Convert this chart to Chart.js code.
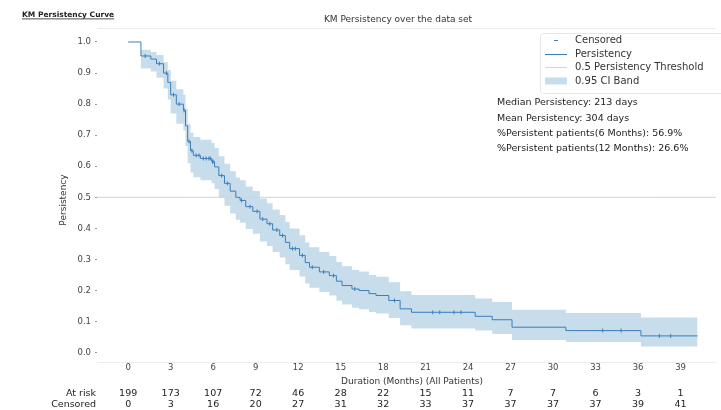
<!DOCTYPE html>
<html>
<head>
<meta charset="utf-8">
<script src="https://cdn.jsdelivr.net/npm/chart.js@4.4.1/dist/chart.umd.min.js"></script>
<style>
  html, body { margin: 0; padding: 0; background: #fff; overflow: hidden; }
  #wrap { position: relative; width: 721px; height: 410px; }
</style>
</head>
<body>
<div id="wrap"><canvas id="kmChart" width="721" height="410"></canvas></div>
<script>
// ---- data ----
var eventMonths = [0, 0.9, 1.6, 2.0, 2.5, 2.8, 3.0, 3.4, 3.9, 4.05, 4.2, 4.4, 4.6, 5.1, 5.9, 6.1, 6.4, 6.8, 7.2, 7.6, 7.9, 8.3, 8.8, 9.3, 9.8, 10.2, 10.7, 11.1, 11.4, 12.1, 12.5, 12.8, 13.5, 14.2, 14.7, 15.1, 15.8, 16.3, 17.0, 17.5, 18.4, 19.2, 20.0, 24.5, 25.7, 27.1, 30.9, 36.2, 40.2];
var persistency = [1.0, 0.955, 0.945, 0.93, 0.90, 0.87, 0.83, 0.80, 0.78, 0.73, 0.68, 0.65, 0.635, 0.625, 0.615, 0.598, 0.57, 0.545, 0.52, 0.50, 0.49, 0.47, 0.455, 0.43, 0.415, 0.395, 0.377, 0.355, 0.335, 0.313, 0.29, 0.275, 0.26, 0.248, 0.23, 0.216, 0.205, 0.2, 0.19, 0.184, 0.168, 0.141, 0.13, 0.117, 0.106, 0.082, 0.071, 0.054, 0.054];
var ciUpper = [1.0, 0.975, 0.968, 0.958, 0.935, 0.91, 0.875, 0.848, 0.83, 0.785, 0.737, 0.708, 0.694, 0.685, 0.675, 0.659, 0.632, 0.608, 0.584, 0.564, 0.555, 0.535, 0.52, 0.496, 0.481, 0.461, 0.443, 0.421, 0.4, 0.378, 0.355, 0.339, 0.324, 0.311, 0.292, 0.278, 0.266, 0.261, 0.25, 0.244, 0.227, 0.198, 0.186, 0.174, 0.163, 0.138, 0.128, 0.113, 0.113];
var ciLower = [1.0, 0.915, 0.905, 0.885, 0.85, 0.815, 0.77, 0.737, 0.715, 0.665, 0.61, 0.58, 0.565, 0.555, 0.545, 0.527, 0.498, 0.473, 0.448, 0.428, 0.418, 0.398, 0.383, 0.358, 0.343, 0.324, 0.306, 0.285, 0.266, 0.245, 0.223, 0.209, 0.195, 0.184, 0.167, 0.155, 0.145, 0.14, 0.131, 0.126, 0.112, 0.088, 0.078, 0.071, 0.06, 0.041, 0.034, 0.02, 0.02];
var censorMonths = [1.2, 2.2, 2.7, 3.2, 3.6, 3.95, 4.3, 4.5, 4.8, 5.0, 5.3, 5.5, 5.7, 5.8, 5.95, 6.0, 6.6, 7.0, 8.0, 8.6, 9.1, 9.5, 10.0, 10.5, 10.9, 11.6, 11.8, 12.3, 13.0, 13.8, 14.5, 16.0, 18.8, 21.5, 22.0, 23.0, 23.5, 33.5, 34.8, 37.5, 38.3];
var censorValues = [0.955, 0.93, 0.90, 0.83, 0.80, 0.78, 0.68, 0.65, 0.635, 0.635, 0.625, 0.625, 0.625, 0.625, 0.615, 0.615, 0.57, 0.545, 0.49, 0.47, 0.455, 0.43, 0.415, 0.395, 0.377, 0.335, 0.335, 0.313, 0.275, 0.26, 0.248, 0.205, 0.168, 0.13, 0.13, 0.13, 0.13, 0.071, 0.071, 0.054, 0.054];
var thresholdValue = 0.5;

var xTicks = [0, 3, 6, 9, 12, 15, 18, 21, 24, 27, 30, 33, 36, 39];
var yTicks = [0, 0.1, 0.2, 0.3, 0.4, 0.5, 0.6, 0.7, 0.8, 0.9, 1.0];
var atRisk = [199, 173, 107, 72, 46, 28, 22, 15, 11, 7, 7, 6, 3, 1];
var censoredCounts = [0, 3, 16, 20, 27, 31, 32, 33, 37, 37, 37, 37, 39, 41];

var statLines = [
  'Median Persistency: 213 days',
  'Mean Persistency: 304 days',
  '%Persistent patients(6 Months): 56.9%',
  '%Persistent patients(12 Months): 26.6%'
];
var legendLabels = ['Censored', 'Persistency', '0.5 Persistency Threshold', '0.95 CI Band'];

var X_MIN = -2.2, X_MAX = 41.5, Y_MIN = -0.03, Y_MAX = 1.045;

var FONT = '"DejaVu Sans", sans-serif';
var LINE_BLUE = '#3b7fba';
var BAND_BLUE = 'rgba(31,119,180,0.25)';
var THRESH = '#c8d8d8';

function pts(xs, ys) { return xs.map(function (x, i) { return { x: x, y: ys[i] }; }); }

// extra text + table drawn with the chart's own scales
var decorPlugin = {
  id: 'decor',
  afterDraw: function (chart) {
    var ctx = chart.ctx, a = chart.chartArea, xs = chart.scales.x;
    ctx.save();

    // top / bottom spines
    ctx.strokeStyle = '#ececec';
    ctx.lineWidth = 1;
    ctx.beginPath();
    ctx.moveTo(a.left, a.top + 0.5); ctx.lineTo(a.right, a.top + 0.5);
    ctx.moveTo(a.left, a.bottom + 0.5); ctx.lineTo(a.right, a.bottom + 0.5);
    ctx.stroke();

    // heading
    ctx.fillStyle = '#222';
    ctx.font = 'bold 7.5px ' + FONT;
    ctx.textAlign = 'left'; ctx.textBaseline = 'alphabetic';
    ctx.fillText('KM Persistency Curve', 22, 17);
    var hw = ctx.measureText('KM Persistency Curve').width;
    ctx.fillRect(22, 18.5, hw, 0.8);

    // title
    ctx.font = '9px ' + FONT;
    ctx.fillStyle = '#333';
    ctx.textAlign = 'center'; ctx.textBaseline = 'middle';
    ctx.fillText('KM Persistency over the data set', 398, 20);

    // y label
    ctx.save();
    ctx.translate(64, 200);
    ctx.rotate(-Math.PI / 2);
    ctx.font = '9px ' + FONT;
    ctx.fillText('Persistency', 0, 0);
    ctx.restore();

    // x label
    ctx.font = '9px ' + FONT;
    ctx.fillText('Duration (Months) (All Patients)', 412, 382);

    // at-risk table
    ctx.font = '9.5px ' + FONT;
    ctx.fillStyle = '#222';
    ctx.textAlign = 'right';
    ctx.fillText('At risk', 96, 394);
    ctx.fillText('Censored', 96, 405);
    ctx.textAlign = 'center';
    xTicks.forEach(function (t, i) {
      var px = xs.getPixelForValue(t);
      ctx.fillText(String(atRisk[i]), px, 394);
      ctx.fillText(String(censoredCounts[i]), px, 405);
    });

    // legend box
    var lx = 540, ly = 33, lw = 190, lh = 60;
    ctx.fillStyle = 'rgba(255,255,255,0.9)';
    ctx.strokeStyle = '#e6e6e6';
    ctx.beginPath();
    ctx.roundRect(lx + 0.5, ly + 0.5, lw, lh, 3);
    ctx.fill(); ctx.stroke();
    ctx.font = '10px ' + FONT;
    ctx.textAlign = 'left'; ctx.textBaseline = 'middle';
    var rows = [40, 54, 67, 81];
    // censored marker
    ctx.strokeStyle = LINE_BLUE; ctx.lineWidth = 1;
    ctx.beginPath(); ctx.moveTo(554, rows[0] + 0.5); ctx.lineTo(558, rows[0] + 0.5); ctx.stroke();
    // persistency line
    ctx.beginPath(); ctx.moveTo(545, rows[1] + 0.5); ctx.lineTo(567, rows[1] + 0.5); ctx.stroke();
    // threshold
    ctx.strokeStyle = THRESH;
    ctx.beginPath(); ctx.moveTo(545, rows[2] + 0.5); ctx.lineTo(567, rows[2] + 0.5); ctx.stroke();
    // band
    ctx.fillStyle = BAND_BLUE;
    ctx.fillRect(545, rows[3] - 3.5, 22, 7);
    ctx.fillStyle = '#333';
    legendLabels.forEach(function (lab, i) { ctx.fillText(lab, 575, rows[i]); });

    // stats
    ctx.fillStyle = '#222';
    ctx.font = '9.5px ' + FONT;
    statLines.forEach(function (s, i) { ctx.fillText(s, 497, 103 + i * 15.3); });

    ctx.restore();
  }
};

new Chart(document.getElementById('kmChart'), {
  type: 'line',
  data: {
    datasets: [
      { label: 'ci_upper', data: pts(eventMonths, ciUpper), stepped: true, borderWidth: 0, pointRadius: 0, fill: false, order: 5 },
      { label: 'ci_lower', data: pts(eventMonths, ciLower), stepped: true, borderWidth: 0, pointRadius: 0, fill: '-1', backgroundColor: BAND_BLUE, order: 4 },
      { label: 'Threshold', data: [{ x: X_MIN, y: thresholdValue }, { x: X_MAX, y: thresholdValue }], borderColor: THRESH, borderWidth: 1, pointRadius: 0, order: 3 },
      { label: 'Persistency', data: pts(eventMonths, persistency), stepped: true, borderColor: LINE_BLUE, borderWidth: 1, pointRadius: 0, fill: false, order: 2 },
      { label: 'Censored', data: pts(censorMonths, censorValues), showLine: false, pointStyle: 'line', rotation: 90, pointRadius: 2, borderColor: LINE_BLUE, borderWidth: 1, order: 1 }
    ]
  },
  options: {
    responsive: false,
    animation: false,
    layout: { padding: { left: 0, right: 0, top: 28, bottom: 0 } },
    plugins: { legend: { display: false }, tooltip: { enabled: false }, title: { display: false } },
    scales: {
      x: {
        type: 'linear', min: X_MIN, max: X_MAX,
        afterBuildTicks: function (s) { s.ticks = xTicks.map(function (v) { return { value: v }; }); },
        afterFit: function (s) { s.height = 48; },
        ticks: { color: '#444', font: { family: FONT, size: 8.5 }, padding: 1, maxRotation: 0, autoSkip: false },
        grid: { display: false, drawTicks: false },
        border: { display: false }
      },
      y: {
        min: Y_MIN, max: Y_MAX,
        afterBuildTicks: function (s) { s.ticks = yTicks.map(function (v) { return { value: v }; }); },
        afterFit: function (s) { s.width = 97; },
        ticks: { color: '#444', font: { family: FONT, size: 8.5 }, padding: 4, callback: function (v) { return v.toFixed(1); } },
        grid: { display: true, drawOnChartArea: false, drawTicks: true, tickLength: 2, color: '#999' },
        border: { display: false }
      }
    }
  },
  plugins: [decorPlugin]
});
</script>
</body>
</html>
